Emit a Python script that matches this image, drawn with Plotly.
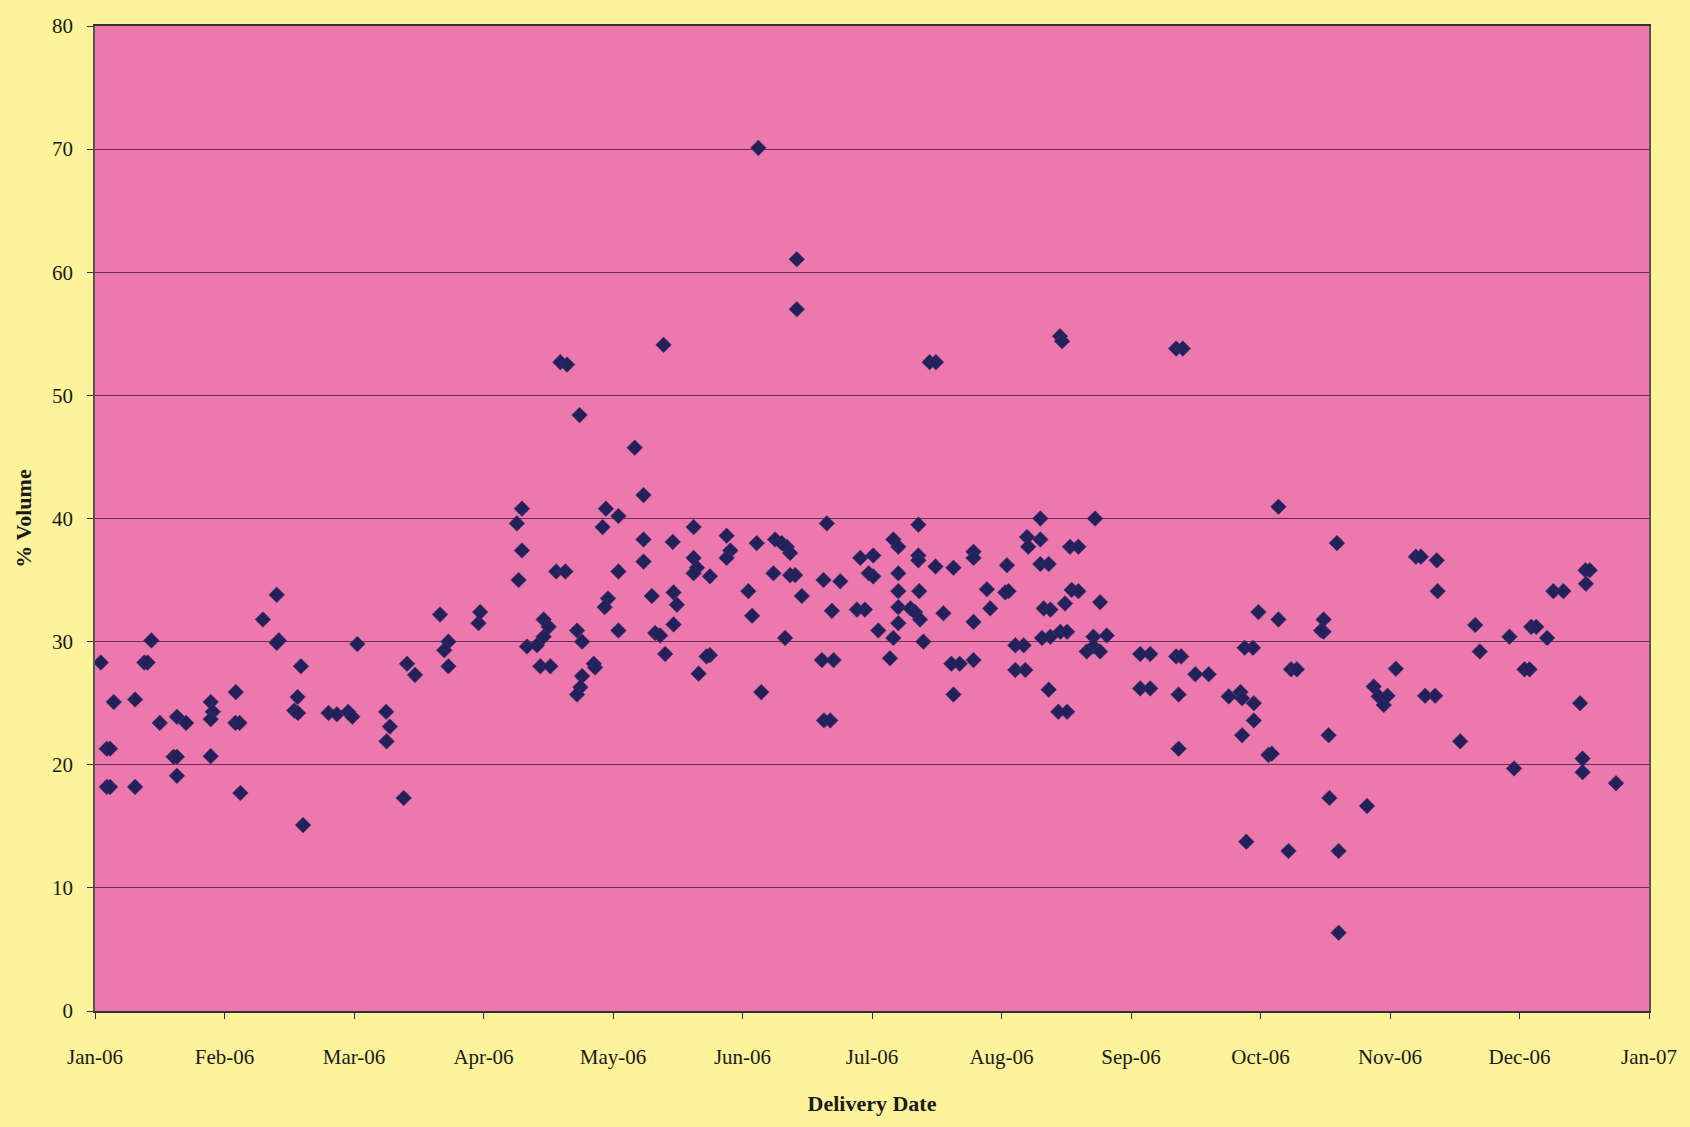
import pandas as pd
import plotly.graph_objects as go

# Delivery day (days after 1 Jan 2006) and % volume for each delivery
delivery_day = [
    1.4, 2.8, 3.6, 2.8, 3.6, 4.5, 9.6, 9.6, 11.8, 12.6, 13.5, 15.5, 18.8, 19.6, 19.6, 19.6,
    21.8, 27.7, 28.2, 27.7, 27.7, 33.7, 33.6, 34.6, 34.8,
    40.2, 43.5, 44.0, 43.5, 49.3, 48.5, 47.7, 48.6, 49.8, 55.9, 57.9, 60.6, 61.6,
    62.8, 69.7, 70.6, 69.8, 73.9, 74.7, 76.6, 82.6, 84.6, 83.6, 84.6, 91.8, 92.2,
    101.0, 102.2, 102.2, 101.4, 103.4, 105.8, 107.4, 108.6, 107.4, 106.6, 109.0, 110.4, 112.6,
    111.4, 113.0, 116.0, 115.4, 116.6, 119.4, 119.7, 116.6, 116.2, 115.4,
    121.5, 122.3, 125.3, 122.8, 122.0, 125.3, 125.3, 129.2, 131.3, 131.3, 131.3, 133.3, 134.1,
    135.3, 136.1, 136.5, 138.3, 138.5, 139.3, 138.5,
    143.3, 143.3, 144.1, 143.3, 147.2, 147.2, 146.4, 144.5, 151.2, 152.1, 151.2, 156.4, 157.3,
    158.4, 158.8, 159.5, 162.8, 164.4, 165.6, 166.4, 162.4, 166.4, 167.6, 165.2, 168.0, 168.0, 169.2,
    175.2, 174.4, 178.4, 176.4, 174.0, 176.8, 174.5, 176.0, 183.2, 182.4, 184.3, 185.2, 186.3,
    186.3, 187.5, 190.3, 191.1, 191.1, 192.3, 192.3, 192.3, 192.3, 192.3, 195.2, 196.3, 197.1,
    197.1, 197.1, 197.3, 197.5, 198.3, 199.8, 201.3, 201.2, 203.1, 205.5, 205.5, 205.0, 207.0,
    210.3, 210.3, 210.3, 210.3, 213.5, 214.3, 217.9, 218.7, 218.3, 220.3, 220.3, 222.3, 222.7,
    223.1, 223.4, 226.3, 226.3, 226.3, 227.1, 226.7, 228.3, 228.7, 228.7, 228.3, 231.0, 231.5,
    231.1, 230.6, 232.7, 232.7, 232.2, 233.8, 235.4, 233.4, 235.4, 239.4, 239.0, 239.0, 237.4,
    240.6, 240.6, 242.2,
    250.2, 252.6, 250.2, 252.6, 258.8, 260.0, 258.8, 260.4, 259.4, 259.4, 263.4, 266.6,
    271.4, 274.2, 274.6, 274.6, 275.6, 275.2, 277.2, 277.4, 277.4, 278.5, 280.9, 281.7, 283.3,
    283.3, 285.7, 286.3, 287.7, 294.1, 294.1, 293.5, 295.3, 295.5, 297.3, 297.7, 297.7,
    304.5, 306.1, 307.3, 308.5, 309.4, 311.4, 316.2, 317.4, 318.4, 321.2, 321.4, 320.8, 326.8,
    330.4, 331.5,
    338.6, 339.7, 342.2, 343.4, 343.8, 345.0, 347.6, 349.1, 351.5, 355.5, 356.1, 356.1, 356.8,
    357.8, 356.9, 364.1,
]

pct_volume = [
    28.3, 21.3, 21.3, 18.2, 18.2, 25.1, 25.3, 18.2, 28.3, 28.3, 30.1, 23.4, 20.65, 20.65, 19.1, 23.9,
    23.4, 25.1, 24.3, 23.7, 20.7, 25.9, 23.4, 23.4, 17.7,
    31.8, 33.8, 30.1, 29.9, 28.0, 25.5, 24.4, 24.2, 15.1, 24.2, 24.1, 24.3, 23.9,
    29.8, 24.3, 23.1, 21.9, 17.3, 28.2, 27.3, 32.2, 30.0, 29.3, 28.0, 31.5, 32.4,
    39.6, 40.8, 37.4, 35.0, 29.6, 29.7, 31.8, 31.2, 30.4, 28.0, 28.0, 35.7, 35.7,
    52.7, 52.5, 48.4, 30.9, 30.0, 28.2, 27.9, 27.2, 26.3, 25.7,
    39.3, 40.8, 40.2, 33.5, 32.8, 35.7, 30.9, 45.75, 41.9, 38.3, 36.5, 33.7, 30.7,
    30.5, 54.1, 29.0, 38.1, 34.0, 33.0, 31.4,
    39.3, 36.8, 36.0, 35.55, 35.3, 28.9, 28.8, 27.4, 38.6, 37.4, 36.8, 34.1, 32.1,
    38.0, 70.1, 25.9, 38.3, 38.0, 37.7, 37.2, 35.55, 35.4, 35.4, 30.3, 61.05, 57.0, 33.7,
    39.6, 35.0, 34.9, 32.5, 28.5, 28.5, 23.6, 23.6, 36.8, 32.6, 32.6, 35.55, 37.0,
    35.3, 30.9, 28.65, 38.3, 30.3, 37.7, 35.55, 34.1, 32.8, 31.5, 32.7, 32.4, 39.5,
    37.0, 36.6, 34.1, 31.8, 30.0, 52.7, 52.7, 36.1, 32.3, 36.0, 25.7, 28.2, 28.2,
    37.3, 36.8, 31.6, 28.5, 34.25, 32.7, 34.0, 34.1, 36.2, 29.7, 27.7, 29.7, 27.7,
    38.5, 37.7, 40.0, 38.3, 36.3, 32.7, 30.3, 36.3, 32.6, 30.4, 26.1, 54.8, 54.4,
    30.8, 24.3, 30.8, 24.3, 33.1, 34.2, 34.1, 37.7, 37.7, 40.0, 30.4, 29.6, 29.2,
    29.2, 33.2, 30.5,
    29.0, 29.0, 26.2, 26.2, 28.8, 28.8, 53.8, 53.8, 25.7, 21.3, 27.35, 27.35,
    25.55, 25.9, 25.4, 22.4, 13.75, 29.5, 29.5, 25.0, 23.6, 32.4, 20.8, 20.9, 31.8,
    40.95, 13.0, 27.75, 27.75, 31.8, 30.8, 30.9, 22.4, 17.3, 38.0, 13.0, 6.35,
    16.65, 26.35, 25.55, 24.85, 25.6, 27.8, 36.9, 36.9, 25.6, 36.6, 34.1, 25.6, 21.9,
    31.35, 29.2,
    30.4, 19.7, 27.75, 27.75, 31.2, 31.2, 30.3, 34.1, 34.1, 25.0, 20.5, 19.4, 35.8,
    35.8, 34.7, 18.5,
]

start = pd.Timestamp("2006-01-01")
dates = start + pd.to_timedelta(delivery_day, unit="D")

# Axis ticks every 31 days, from 1 Jan 2006 to 8 Jan 2007
tick_dates = pd.date_range(start, periods=13, freq="31D")
x_end = tick_dates[-1]

serif = "Liberation Serif, Times New Roman, serif"

fig = go.Figure(
    go.Scatter(
        x=dates,
        y=pct_volume,
        mode="markers",
        marker=dict(symbol="diamond", size=12, color="#23205a",
                    line=dict(width=0.6, color="#3a3470")),
        showlegend=False,
    )
)

fig.update_layout(
    width=1690,
    height=1127,
    paper_bgcolor="#fcf39b",
    plot_bgcolor="#ec78ae",
    margin=dict(l=95, r=41, t=26, b=116),
    font=dict(family=serif, size=21, color="#1a1a1a"),
)

fig.update_xaxes(
    type="date",
    range=[start, x_end],
    tickvals=tick_dates,
    tickformat="%b-%y",
    ticks="outside",
    ticklen=6,
    tickcolor="#333333",
    ticklabelstandoff=20,
    showgrid=False,
    showline=True,
    linecolor="#333333",
    linewidth=1.5,
    mirror=True,
    zeroline=False,
    title=dict(text="<b>Delivery Date</b>", font=dict(family=serif, size=22), standoff=28),
)

fig.update_yaxes(
    range=[0, 80],
    dtick=10,
    ticks="outside",
    ticklen=6,
    tickcolor="#333333",
    ticklabelstandoff=10,
    showgrid=True,
    gridcolor="#6e2a55",
    gridwidth=1,
    showline=True,
    linecolor="#555555",
    linewidth=1.5,
    mirror=True,
    zeroline=False,
    title=dict(text="<b>% Volume</b>", font=dict(family=serif, size=22), standoff=14),
)

fig.write_html("out.html")
